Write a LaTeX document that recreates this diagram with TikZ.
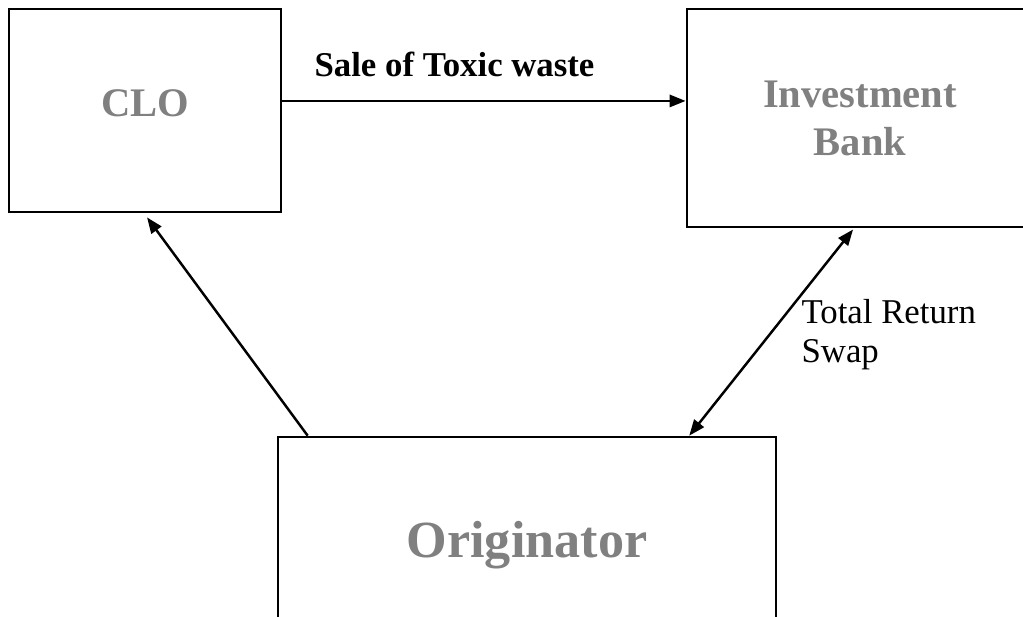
\documentclass[tikz,border=0pt]{standalone}
\usepackage{fontspec}
\setmainfont{Liberation Serif}
\usepackage{xcolor}
\usetikzlibrary{positioning,arrows.meta}
\definecolor{boxgray}{HTML}{808080}

\begin{document}
\begin{tikzpicture}[
    x=0.345pt, y=-0.345pt,
    party/.style={rectangle, draw, line width=0.95pt, text=boxgray, align=center, inner sep=0pt, font=\fontsize{14}{16.6}\selectfont\bfseries},
    arrow/.style={-{Triangle[length=5.5pt,width=4.2pt]}, line width=0.85pt},
    twoway/.style={{Triangle[length=5.5pt,width=4.2pt]}-{Triangle[length=5.5pt,width=4.2pt]}, line width=0.85pt},
    flowlabel/.style={inner sep=0pt, align=left, font=\fontsize{12}{13.5}\selectfont}
]
    \clip (0,0) rectangle (1023,616);
    % Nodes
    \node[party, minimum width=93.8pt, minimum height=70pt, text depth=5pt] (clo) at (145,110.5) {CLO};
    \node[party, minimum width=119.4pt, minimum height=75.2pt] (ib) at (860,118) {Investment\\Bank};
    \node[party, minimum width=171.8pt, minimum height=74.5pt, font=\fontsize{18}{22}\selectfont\bfseries] (orig) at (527,545) {Originator};

    \node[flowlabel, font=\fontsize{12}{14}\selectfont\bfseries, anchor=base west] (sale) at (314,76) {Sale of Toxic waste};
    \node[flowlabel, anchor=north west] (trs) at (801,299) {Total Return\\Swap};

    % Arrows
    \draw[arrow] ([yshift=3.3pt]clo.east) -- ([yshift=3.3pt]clo.east -| ib.west);
    \draw[arrow] ([xshift=10.7pt]orig.north west) -- ([xshift=0.7pt,yshift=-1.4pt]clo.south);
    \draw[twoway] ([xshift=-30.4pt]orig.north east) -- ([xshift=-2.4pt,yshift=-0.4pt]ib.south);
\end{tikzpicture}
\end{document}
